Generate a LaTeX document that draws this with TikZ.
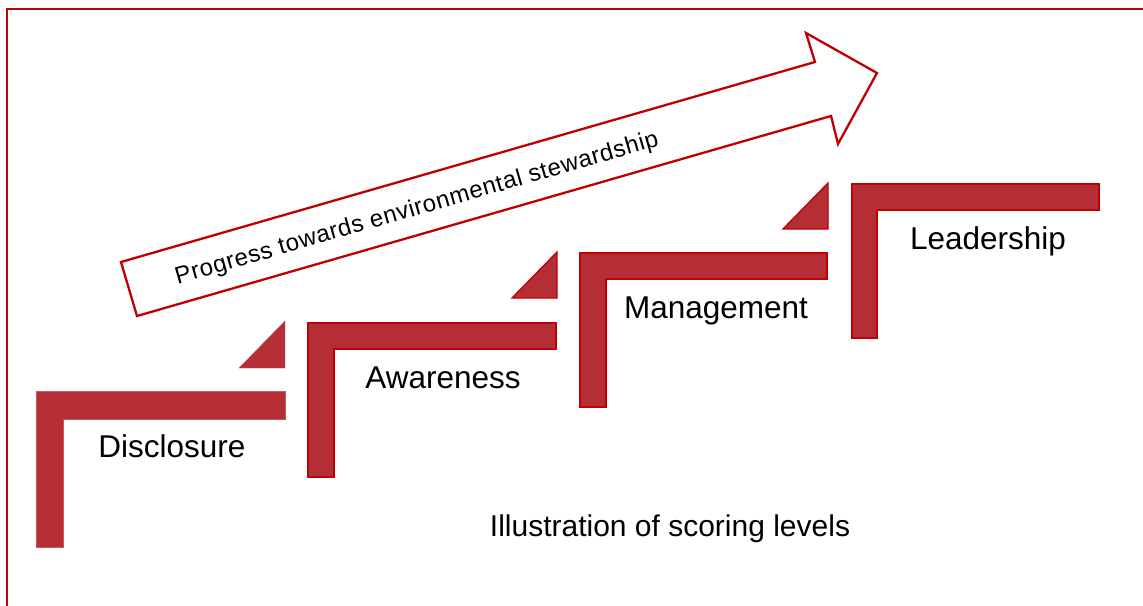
\documentclass[tikz,border=0pt]{standalone}
\usepackage{fontspec}
\setmainfont{Liberation Sans}
\newfontfamily\spacedfont[LetterSpace=2.5]{Liberation Sans}
\definecolor{stepfill}{RGB}{181,46,53}
\definecolor{darkred}{RGB}{192,0,0}
\definecolor{softedge}{RGB}{200,90,95}
\tikzset{
  stepshape/.style={fill=stepfill, draw=darkred, line width=1.3pt, line join=miter},
  firstshape/.style={fill=stepfill, draw=softedge, line width=0.4pt},
  levellabel/.style={anchor=base, inner sep=0pt, font=\fontsize{31.5}{36}\selectfont},
  arrowshape/.style={draw=darkred, fill=white, line width=2.3pt, line join=miter},
  framebox/.style={draw=darkred, line width=2.6pt}
}
\begin{document}
\begin{tikzpicture}[x=1pt,y=-1pt]
\useasboundingbox (0,0) rectangle (1143,605);
\fill[white] (0,0) rectangle (1143,605);
% frame (open at right and bottom, cropped)
\draw[framebox] (7,610) -- (7,9) -- (1150,9);
% progress arrow
\draw[arrowshape] (121,262) -- (815,62) -- (806,33) -- (877,73) -- (838,144) -- (831,116) -- (137,316) -- cycle;
\node[rotate=16.08, inner sep=0pt, font=\spacedfont\fontsize{24}{28}\selectfont] (prog) at (417,209) {Progress towards environmental stewardship};
% steps
\draw[firstshape] (36,391) -- (285,391) -- (285,419) -- (63,419) -- (63,547) -- (36,547) -- cycle;
\draw[firstshape] (239,368) -- (285,321) -- (285,368) -- cycle;
\draw[stepshape] (308,323) -- (556,323) -- (556,349) -- (334,349) -- (334,477) -- (308,477) -- cycle;
\draw[stepshape] (512,298) -- (557,252) -- (557,298) -- cycle;
\draw[stepshape] (580,253) -- (827,253) -- (827,279) -- (606,279) -- (606,407) -- (580,407) -- cycle;
\draw[stepshape] (783,229) -- (828,183) -- (828,229) -- cycle;
\draw[stepshape] (852,184) -- (1099,184) -- (1099,210) -- (877,210) -- (877,338) -- (852,338) -- cycle;
% labels
\node[levellabel] (disc) at (172,457) {Disclosure};
\node[levellabel] (aware) at (443,388) {Awareness};
\node[levellabel] (manage) at (716,318) {Management};
\node[levellabel] (lead) at (988,249) {Leadership};
\node[anchor=base, inner sep=0pt, font=\fontsize{30}{34}\selectfont] (caption) at (670,536) {Illustration of scoring levels};
\end{tikzpicture}
\end{document}
